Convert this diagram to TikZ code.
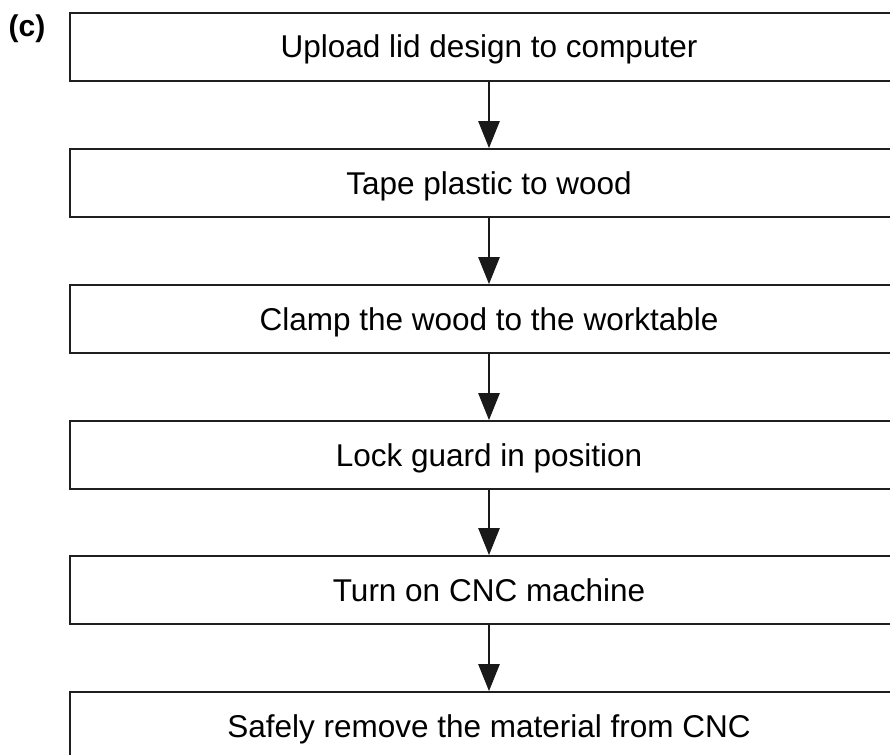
\documentclass[tikz,border=0pt]{standalone}
\usepackage{fontspec}
\setmainfont{Liberation Sans}
\usetikzlibrary{arrows.meta}
\begin{document}
\begin{tikzpicture}[x=1pt,y=-1pt,
  stepbox/.style={draw=black!88,line width=2.7pt,minimum width=838pt,minimum height=68pt,inner sep=0pt,
    font=\fontsize{31.5}{36}\selectfont, text height=22pt, text depth=0pt},
  flow/.style={draw=black!90,line width=2.6pt,-{Triangle[length=27pt,width=21pt]}, shorten >=-0.5pt}]
\useasboundingbox (0,0) rectangle (890,754);
\node[font=\fontsize{30}{36}\selectfont\bfseries,anchor=base] (lab) at (27,37) {(c)};
\node[stepbox] (b1) at (489,47) {Upload lid design to computer};
\node[stepbox] (b2) at (489,183) {Tape plastic to wood};
\node[stepbox] (b3) at (489,319) {Clamp the wood to the worktable};
\node[stepbox] (b4) at (489,455) {Lock guard in position};
\node[stepbox] (b5) at (489,590) {Turn on CNC machine};
\node[stepbox] (b6) at (489,726) {Safely remove the material from CNC};
\foreach \a/\b in {b1/b2,b2/b3,b3/b4,b4/b5,b5/b6}
  \draw[flow] (\a.south) -- (\b.north);
\end{tikzpicture}
\end{document}
